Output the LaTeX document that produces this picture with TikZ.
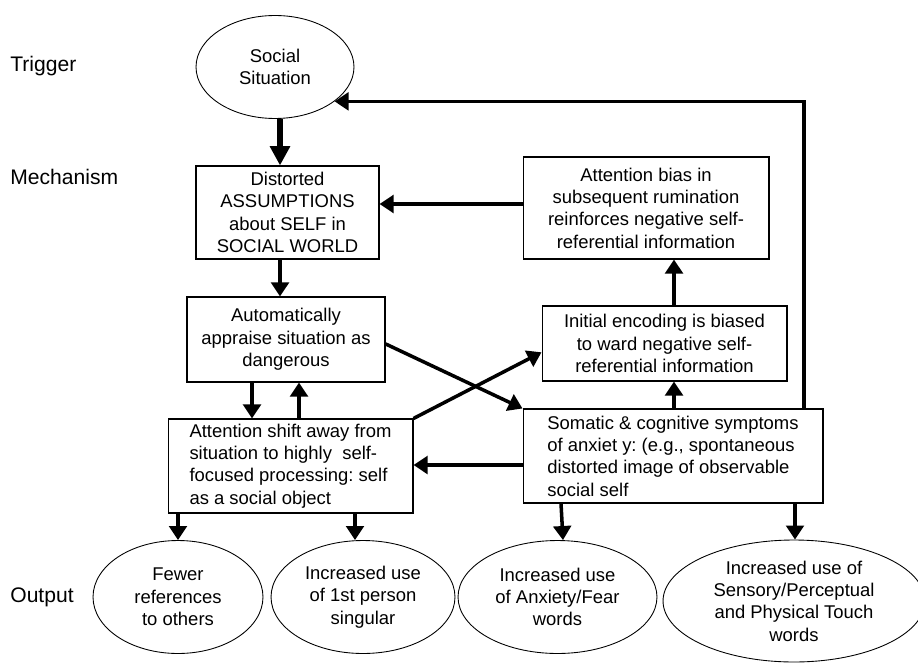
\documentclass[tikz,border=0pt]{standalone}
\usepackage{fontspec}
\setmainfont{Liberation Sans}
\usetikzlibrary{shapes.geometric,arrows.meta}
\frenchspacing

\begin{document}
\begin{tikzpicture}[x=0.02cm, y=-0.02cm,
	box/.style={draw=black, line width=0.6pt, rectangle, inner sep=0pt, align=center, font=\fontsize{10.5}{12.7}\selectfont},
	oval/.style={draw=black, line width=0.5pt, ellipse, inner sep=0pt, align=center, font=\fontsize{10.5}{12.7}\selectfont},
	level/.style={anchor=west, inner sep=0pt, font=\fontsize{12}{14}\selectfont},
	arr/.style={draw=black, line width=2pt, -{Triangle[width=10pt,length=8pt]}},
	bigarr/.style={draw=black, line width=3.6pt, -{Triangle[width=11pt,length=11pt]}}]
	\useasboundingbox (0,0) rectangle (918,662);
	\node[level] (trig) at (10,66) {Trigger};
	\node[level] (mech) at (10,177) {Mechanism};
	\node[level] (outp) at (10,597) {Output};
	\node[oval, minimum width=3.16cm, minimum height=2.06cm] (soc) at (275,67) {Social\\Situation};
	\node[box, minimum width=3.66cm, minimum height=1.86cm] (dist) at (287.5,212.5) {Distorted\\ASSUMPTIONS\\about SELF in\\SOCIAL WORLD};
	\node[box, minimum width=3.96cm, minimum height=1.70cm] (auto) at (286,339.5) {Automatically\\appraise situation as\\dangerous};
	\node[box, minimum width=4.90cm, minimum height=1.88cm, align=left] (shift) at (290.5,466) {Attention shift away from\\situation to highly\ \ self-\\focused processing: self\\as a social object};
	\node[box, minimum width=4.92cm, minimum height=2.04cm] (bias) at (646,208) {Attention bias in\\subsequent rumination\\reinforces negative self-\\referential information};
	\node[box, minimum width=4.90cm, minimum height=1.50cm] (enc) at (664.5,343.5) {Initial encoding is biased\\to ward negative self-\\referential information};
	\node[box, minimum width=6.00cm, minimum height=1.88cm, align=left] (soma) at (673,456) {Somatic \& cognitive symptoms\\of anxiet y: (e.g., spontaneous\\distorted image of observable\\social self};
	\node[oval, minimum width=3.40cm, minimum height=2.26cm] (fewer) at (178,597) {Fewer\\references\\to others};
	\node[oval, minimum width=3.68cm, minimum height=2.26cm] (first) at (363,597) {Increased use\\of 1st person\\singular};
	\node[oval, minimum width=3.98cm, minimum height=2.26cm] (anx) at (557.5,597) {Increased use\\of Anxiety/Fear\\words};
	\node[oval, minimum width=5.24cm, minimum height=2.44cm] (sens) at (794,601) {Increased use of\\Sensory/Perceptual\\and Physical Touch\\words};
	\draw[bigarr] (soc.south -| 280,0) -- (dist.north -| 280,0);
	\draw[arr] (dist.south -| 280,0) -- (auto.north -| 280,0);
	\draw[arr] (auto.south -| 252,0) -- (shift.north -| 252,0);
	\draw[arr] (shift.north -| 299,0) -- (auto.south -| 299,0);
	\draw[arr] (shift.south -| fewer.north) -- (fewer.north);
	\draw[arr] (shift.south -| 355,0) -- (first.north -| 355,0);
	\draw[arr] (soma.south -| 561,0) -- (anx.north -| 563,0);
	\draw[arr] (soma.south -| 795,0) -- (sens.north -| 795,0);
	\draw[arr] (soma.west |- 0,465) -- (shift.east |- 0,465);
	\draw[arr] (soma.north -| 674,0) -- (enc.south -| 674,0);
	\draw[arr] (enc.north -| 674,0) -- (bias.south -| 674,0);
	\draw[arr] (bias.west |- 0,204) -- (dist.east |- 0,204);
	\draw[arr] ([yshift=-2.5pt]auto.east) -- (soma.north west);
	\draw[arr] (shift.north east) -- ([yshift=-5pt]enc.west);
	\draw[arr] (soma.north -| 804,0) |- (soc.-30);
\end{tikzpicture}
\end{document}
